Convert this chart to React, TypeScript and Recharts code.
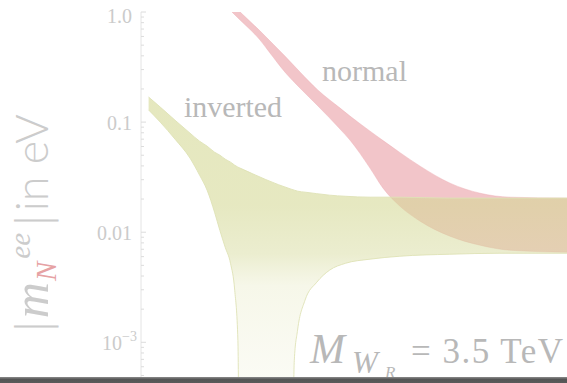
import React from 'react';
import { ComposedChart, Area, XAxis, YAxis } from 'recharts';

// ---- axes (lightest neutrino mass in eV, |m_N^ee| in eV) ----
const xDomain: [number, number] = [8.91e-5, 0.891];
const yDomain: [number, number] = [4.27e-4, 1.0];
const yDecades = [1.0, 0.1, 0.01, 0.001];
const yDecadeLabels = ['1.0', '0.1', '0.01', '10^-3'];
const xDecades = [1e-5, 1e-4, 1e-3, 1e-2, 1e-1];
const minorMultipliers = [1, 2, 3, 4, 5, 6, 7, 8, 9];

// ---- normal ordering band ----
const normalX = [4.42e-4, 6.37e-4, 7.59e-4, 1.17e-3, 1.45e-3, 2.0e-3, 2.77e-3, 4.09e-3, 6.59e-3, 8.17e-3, 0.0126, 0.0167, 0.0241, 0.0372, 0.071, 0.136, 0.26, 0.891];
const normalHigh = [1.69, 1.18, 1.0, 0.672, 0.545, 0.398, 0.285, 0.195, 0.134, 0.1134, 0.0828, 0.0679, 0.0528, 0.0398, 0.0279, 0.0226, 0.0208, 0.0204];
const normalLow = [1.49, 1.0, 0.846, 0.556, 0.424, 0.285, 0.204, 0.14, 0.0864, 0.0686, 0.0382, 0.0251, 0.0172, 0.0126, 0.0092, 0.00762, 0.00686, 0.00658];

// ---- inverted ordering band ----
const invertedX = [1.05e-4, 1.35e-4, 1.86e-4, 2.57e-4, 3.16e-4, 3.72e-4, 4.37e-4, 4.9e-4, 5.5e-4, 6.17e-4, 6.76e-4, 7.24e-4, 7.59e-4, 2.29e-3, 2.45e-3, 2.63e-3, 3.09e-3, 3.98e-3, 5.25e-3, 7.41e-3, 0.0126, 0.024, 0.0708, 0.209, 0.891];
const invertedHigh = [0.169, 0.137, 0.104, 0.0794, 0.0671, 0.0605, 0.0533, 0.0501, 0.0461, 0.0433, 0.0406, 0.039, 0.0382, 0.0246, 0.0241, 0.0236, 0.0231, 0.0224, 0.0217, 0.0212, 0.0208, 0.0208, 0.0204, 0.0204, 0.0204];
const invertedLow = [0.129, 0.1, 0.07, 0.0471, 0.033, 0.0241, 0.0152, 0.0104, 0.00731, 0.00522, 0.00297, 0.00104, 1e-5, 1e-5, 0.000686, 0.00129, 0.00241, 0.00351, 0.00452, 0.00522, 0.00569, 0.00605, 0.00631, 0.00644, 0.00644];

const normalData = normalX.map((x, i) => ({ x, range: [normalLow[i], normalHigh[i]] }));
const invertedData = invertedX.map((x, i) => ({ x, range: [invertedLow[i], invertedHigh[i]] }));

const inDomain = (v: number, d: [number, number]) => v >= d[0] * 0.9999 && v <= d[1] * 1.0001;
const yTicks = [1e-4, ...yDecades.slice(1)]
  .flatMap((d) => minorMultipliers.map((m) => +(m * d).toPrecision(6)))
  .concat([1.0])
  .filter((v, i, a) => a.indexOf(v) === i && inDomain(v, yDomain));
const xTicks = xDecades
  .flatMap((d) => minorMultipliers.map((m) => +(m * d).toPrecision(6)))
  .filter((v) => inDomain(v, xDomain));

const isDecade = (v: number) => Math.abs(Math.log10(v) - Math.round(Math.log10(v))) < 1e-6;

const TICK_COLOR = '#dcdcdc';
const LABEL_COLOR = '#cbcbcb';
const SERIF = '"Liberation Serif", "DejaVu Serif", serif';
const SANS = 'Lato, "DejaVu Sans", sans-serif';

const YTick = (props: any) => {
  const { x, y, payload } = props;
  const v = payload.value as number;
  const major = isDecade(v);
  const idx = yDecades.findIndex((d) => Math.abs(d - v) / d < 1e-6);
  const label = idx >= 0 ? yDecadeLabels[idx] : null;
  let text: React.ReactNode = null;
  if (label) {
    const dy = idx === 0 ? 11 : 8;
    if (label.includes('^')) {
      const [b, e] = label.split('^');
      text = (
        <text x={x - 4} y={y + dy} textAnchor="end" fontFamily={SERIF} fontSize={20} fill={LABEL_COLOR}>
          <tspan>{b}</tspan>
          <tspan dy={-9} fontSize={14}>{e.replace('-', '−')}</tspan>
        </text>
      );
    } else {
      text = (
        <text x={x - 9} y={y + dy} textAnchor="end" fontFamily={SERIF} fontSize={20} fill={LABEL_COLOR}>
          {label}
        </text>
      );
    }
  }
  return (
    <g>
      <line x1={x} x2={x + (major ? 5 : 3)} y1={y} y2={y} stroke={TICK_COLOR} strokeWidth={1} />
      {text}
    </g>
  );
};

const XTopTick = (props: any) => {
  const { x, y, payload } = props;
  const major = isDecade(payload.value);
  return <line x1={x} x2={x} y1={y} y2={y + (major ? 5 : 3)} stroke={TICK_COLOR} strokeWidth={1} />;
};

export default function App() {
  return (
    <div style={{ position: 'fixed', left: 0, top: 0, width: 567, height: 383, background: '#fff', overflow: 'hidden' }}>
      <ComposedChart width={567} height={383} margin={{ top: 12, right: 0, bottom: 0, left: 0 }}>
        <defs>
          <linearGradient id="invGrad" gradientUnits="userSpaceOnUse" x1="0" y1="97" x2="0" y2="383">
            <stop offset="0" stopColor="#d4d894" stopOpacity={0.6} />
            <stop offset="0.38" stopColor="#d4d894" stopOpacity={0.58} />
            <stop offset="0.55" stopColor="#d6da9c" stopOpacity={0.48} />
            <stop offset="0.66" stopColor="#dde0aa" stopOpacity={0.26} />
            <stop offset="1" stopColor="#e2e4b8" stopOpacity={0.14} />
          </linearGradient>
        </defs>
        <XAxis
          xAxisId="main"
          dataKey="x"
          type="number"
          scale="log"
          domain={xDomain}
          allowDataOverflow
          hide
        />
        <XAxis
          xAxisId="top"
          orientation="top"
          type="number"
          scale="log"
          domain={xDomain}
          allowDataOverflow
          ticks={xTicks}
          interval={0}
          height={0}
          tickSize={0}
          tickMargin={0}
          tickLine={false}
          tick={<XTopTick />}
          axisLine={{ stroke: '#e4e4e4' }}
        />
        <YAxis
          type="number"
          scale="log"
          domain={yDomain}
          allowDataOverflow
          ticks={yTicks}
          interval={0}
          width={141}
          tickSize={0}
          tickMargin={0}
          tickLine={false}
          tick={<YTick />}
          axisLine={{ stroke: '#e4e4e4' }}
        />
        <Area
          xAxisId="main"
          data={normalData}
          dataKey="range"
          type="monotone"
          fill="#eca9b0"
          fillOpacity={0.68}
          stroke="#eba6ad"
          strokeOpacity={0.5}
          strokeWidth={0.8}
          isAnimationActive={false}
        />
        <Area
          xAxisId="main"
          data={invertedData}
          dataKey="range"
          type="monotone"
          fill="url(#invGrad)"
          fillOpacity={1}
          stroke="#dfe2b6"
          strokeWidth={0.9}
          isAnimationActive={false}
        />
      </ComposedChart>
      <svg width={567} height={383} style={{ position: 'absolute', left: 0, top: 0, pointerEvents: 'none' }}>
        <text x={322} y={81} fontFamily={SERIF} fontSize={29} fill="#b8b8b8" textLength={85} lengthAdjust="spacingAndGlyphs">
          normal
        </text>
        <text x={184} y={117} fontFamily={SERIF} fontSize={29} fill="#b8b8b8" textLength={98} lengthAdjust="spacingAndGlyphs">
          inverted
        </text>
        <text x={310} y={363} fontFamily={SERIF} fontSize={42} fontStyle="italic" fill="#b8b8b8">M</text>
        <text x={352} y={373} fontFamily={SERIF} fontSize={31} fontStyle="italic" fill="#b8b8b8">W</text>
        <text x={385} y={378} fontFamily={SERIF} fontSize={17} fontStyle="italic" fill="#b8b8b8">R</text>
        <text x={411} y={363} fontFamily={SERIF} fontSize={35} fill="#b8b8b8" textLength={152} lengthAdjust="spacing">
          = 3.5 TeV
        </text>
        <g transform="translate(48,334) rotate(-90)">
          <text x={0} y={0} fontSize={44} fill="#cccccc">
            <tspan fontFamily='"DejaVu Sans", sans-serif' fontWeight={200}>|</tspan>
            <tspan fontFamily={SERIF} fontStyle="italic" fontSize={50} dx={1} letterSpacing={0}>m</tspan>
            <tspan fontFamily={SERIF} fontStyle="italic" fontSize={29} dx={1} dy={8} fill="#e6a2a4">N</tspan>
            <tspan fontFamily={SERIF} fontStyle="italic" fontSize={29} dy={-26} dx={3}>ee</tspan>
            <tspan fontFamily='"DejaVu Sans", sans-serif' fontWeight={200} dy={18} dx={5}>|</tspan>
            <tspan fontFamily={SANS} fontWeight={300} fontSize={45} dx={2}>in eV</tspan>
          </text>
        </g>
      </svg>
      <div style={{ position: 'absolute', left: 0, top: 377, width: 567, height: 6, background: 'linear-gradient(#8c8c8c, #555 40%, #5a5a5a)' }} />
    </div>
  );
}
